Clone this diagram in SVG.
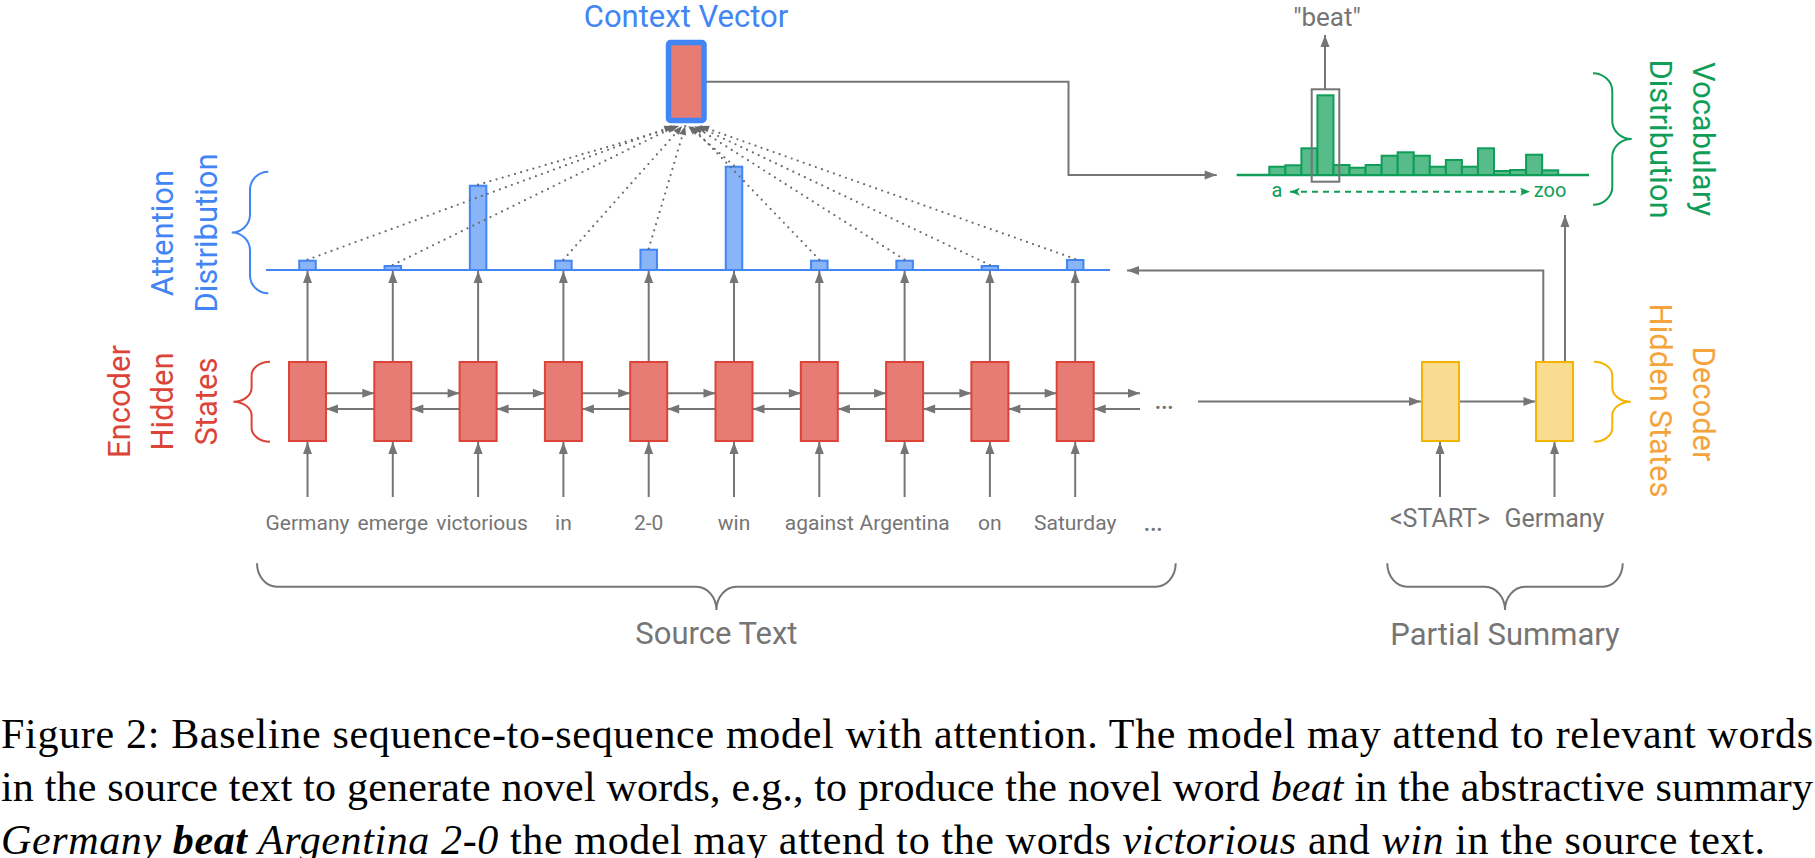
<svg xmlns="http://www.w3.org/2000/svg" width="1815" height="858" viewBox="0 0 1815 858">
<style>
.conn{fill:none;stroke:#757575;stroke-width:2}
.arr{marker-end:url(#ah)}
.dot{fill:none;stroke:#6a6a6a;stroke-width:2.2;stroke-dasharray:0 6.4;stroke-linecap:round;marker-end:url(#ahs)}
.enc{fill:#E67C73;stroke:#DB4437;stroke-width:2}
.dec{fill:#F9DC8F;stroke:#F4B400;stroke-width:2}
.att{fill:#8AB4F8;stroke:#4285F4;stroke-width:2}
.voc{fill:#57BB8A;stroke:#0F9D58;stroke-width:2}
.t{font-family:Roboto,"Liberation Sans",sans-serif}
.word{font-size:21px;fill:#757575;text-anchor:middle}
.big{font-size:31px;text-anchor:middle}
.cap{font-family:"Liberation Serif","Times New Roman",serif;font-size:42px;fill:#000}
.brace{fill:none;stroke-width:2}
.ell{fill:#757575}
</style>
<defs>
<marker id="ah" markerUnits="userSpaceOnUse" markerWidth="14" markerHeight="10" refX="12" refY="4.5" orient="auto" overflow="visible"><path d="M0,0 L12,4.5 L0,9 z" fill="#757575"/></marker>
<marker id="ahs" markerUnits="userSpaceOnUse" markerWidth="10" markerHeight="8" refX="9" refY="3.5" orient="auto" overflow="visible"><path d="M0,0 L9,3.5 L0,7 z" fill="#6a6a6a"/></marker>
<marker id="ahg" markerUnits="userSpaceOnUse" markerWidth="11" markerHeight="9" refX="10" refY="4" orient="auto-start-reverse" overflow="visible"><path d="M0,0 L10,4 L0,8 L2.5,4 z" fill="#0F9D58"/></marker>
</defs>
<rect x="0" y="0" width="1815" height="858" fill="#fff"/>

<!-- attention baseline -->
<line x1="266" y1="270" x2="1110" y2="270" stroke="#4285F4" stroke-width="2"/>
<!-- vocab baseline -->
<line x1="1236.7" y1="175" x2="1589" y2="175" stroke="#0F9D58" stroke-width="2.5"/>

<g id="connectors">
  <!-- encoder forward arrows -->
  <path class="conn arr" d="M326 393.3H374.3"/>
  <path class="conn arr" d="M411.3 393.3H459.6"/>
  <path class="conn arr" d="M496.6 393.3H544.9"/>
  <path class="conn arr" d="M581.9 393.3H630.2"/>
  <path class="conn arr" d="M667.2 393.3H715.5"/>
  <path class="conn arr" d="M752.5 393.3H800.8"/>
  <path class="conn arr" d="M837.8 393.3H886.1"/>
  <path class="conn arr" d="M923.1 393.3H971.4"/>
  <path class="conn arr" d="M1008.4 393.3H1056.7"/>
  <path class="conn arr" d="M1093.7 393.3H1140"/>
  <!-- encoder backward arrows -->
  <path class="conn arr" d="M374.3 409H326"/>
  <path class="conn arr" d="M459.6 409H411.3"/>
  <path class="conn arr" d="M544.9 409H496.6"/>
  <path class="conn arr" d="M630.2 409H581.9"/>
  <path class="conn arr" d="M715.5 409H667.2"/>
  <path class="conn arr" d="M800.8 409H752.5"/>
  <path class="conn arr" d="M886.1 409H837.8"/>
  <path class="conn arr" d="M971.4 409H923.1"/>
  <path class="conn arr" d="M1056.7 409H1008.4"/>
  <path class="conn arr" d="M1140 409H1093.7"/>
  <!-- encoder to attention -->
  <path class="conn arr" d="M307.5 362V271"/>
  <path class="conn arr" d="M392.8 362V271"/>
  <path class="conn arr" d="M478.1 362V271"/>
  <path class="conn arr" d="M563.4 362V271"/>
  <path class="conn arr" d="M648.7 362V271"/>
  <path class="conn arr" d="M734 362V271"/>
  <path class="conn arr" d="M819.3 362V271"/>
  <path class="conn arr" d="M904.6 362V271"/>
  <path class="conn arr" d="M989.9 362V271"/>
  <path class="conn arr" d="M1075.2 362V271"/>
  <!-- word inputs -->
  <path class="conn arr" d="M307.5 497V442"/>
  <path class="conn arr" d="M392.8 497V442"/>
  <path class="conn arr" d="M478.1 497V442"/>
  <path class="conn arr" d="M563.4 497V442"/>
  <path class="conn arr" d="M648.7 497V442"/>
  <path class="conn arr" d="M734 497V442"/>
  <path class="conn arr" d="M819.3 497V442"/>
  <path class="conn arr" d="M904.6 497V442"/>
  <path class="conn arr" d="M989.9 497V442"/>
  <path class="conn arr" d="M1075.2 497V442"/>
  <path class="conn arr" d="M1440 497V442"/>
  <path class="conn arr" d="M1554.5 497V442"/>
  <!-- decoder chain -->
  <path class="conn arr" d="M1198 401.5H1421"/>
  <path class="conn arr" d="M1459 401.5H1535.5"/>
  <!-- decoder to attention & vocab -->
  <path class="conn arr" d="M1543.3 361.7V270.5H1127"/>
  <path class="conn arr" d="M1565 361.7V215"/>
  <!-- context to vocab -->
  <path class="conn arr" d="M706 81.7H1068.5V175H1216.7"/>
  <!-- beat output -->
  <path class="conn arr" d="M1325 89.3V35"/>
</g>

<g id="attention-bars">
  <rect class="att" x="299.25" y="260.7" width="16.5" height="9.3"/>
  <rect class="att" x="384.55" y="266" width="16.5" height="4"/>
  <rect class="att" x="469.85" y="185.7" width="16.5" height="84.3"/>
  <rect class="att" x="555.15" y="260.7" width="16.5" height="9.3"/>
  <rect class="att" x="640.45" y="249.7" width="16.5" height="20.3"/>
  <rect class="att" x="725.75" y="166.7" width="16.5" height="103.3"/>
  <rect class="att" x="811.05" y="260.7" width="16.5" height="9.3"/>
  <rect class="att" x="896.35" y="260.7" width="16.5" height="9.3"/>
  <rect class="att" x="981.65" y="266" width="16.5" height="4"/>
  <rect class="att" x="1066.95" y="260" width="16.5" height="10"/>
</g>

<g id="attention-links">
  <path class="dot" d="M307.5 259.7L673.2 126"/>
  <path class="dot" d="M392.8 265L676.2 126"/>
  <path class="dot" d="M478.1 184.7L679.2 126"/>
  <path class="dot" d="M563.4 259.7L682.2 126"/>
  <path class="dot" d="M648.7 248.7L685.2 126"/>
  <path class="dot" d="M734 165.7L688.2 126"/>
  <path class="dot" d="M819.3 259.7L691.1 126"/>
  <path class="dot" d="M904.6 259.7L694.1 126"/>
  <path class="dot" d="M989.9 265L697.1 126"/>
  <path class="dot" d="M1075.2 259L700.1 126"/>
</g>

<g id="context-vector">
  <rect x="668.5" y="42.5" width="35.5" height="78" rx="2" fill="#E67C73" stroke="#4285F4" stroke-width="5.5"/>
  <text class="t big" x="686" y="26.5" fill="#4285F4">Context Vector</text>
</g>

<g id="encoder">
  <g id="enc0"><rect class="enc" x="289" y="362" width="37" height="79"/></g>
  <g id="enc1"><rect class="enc" x="374.3" y="362" width="37" height="79"/></g>
  <g id="enc2"><rect class="enc" x="459.6" y="362" width="37" height="79"/></g>
  <g id="enc3"><rect class="enc" x="544.9" y="362" width="37" height="79"/></g>
  <g id="enc4"><rect class="enc" x="630.2" y="362" width="37" height="79"/></g>
  <g id="enc5"><rect class="enc" x="715.5" y="362" width="37" height="79"/></g>
  <g id="enc6"><rect class="enc" x="800.8" y="362" width="37" height="79"/></g>
  <g id="enc7"><rect class="enc" x="886.1" y="362" width="37" height="79"/></g>
  <g id="enc8"><rect class="enc" x="971.4" y="362" width="37" height="79"/></g>
  <g id="enc9"><rect class="enc" x="1056.7" y="362" width="37" height="79"/></g>
  <text class="t ell" x="1164" y="409" font-size="30" text-anchor="middle">…</text>
</g>

<g id="decoder">
  <g id="dec0"><rect class="dec" x="1422" y="362" width="37" height="79"/></g>
  <g id="dec1"><rect class="dec" x="1536" y="362" width="37" height="79"/></g>
</g>

<g id="source-words" class="t word">
  <text x="307.5" y="530">Germany</text>
  <text x="392.8" y="530">emerge</text>
  <text x="482" y="530">victorious</text>
  <text x="563.4" y="530">in</text>
  <text x="648.7" y="530">2-0</text>
  <text x="734" y="530">win</text>
  <text x="819.3" y="530">against</text>
  <text x="904.6" y="530">Argentina</text>
  <text x="989.9" y="530">on</text>
  <text x="1075.2" y="530">Saturday</text>
  <text x="1153" y="531" font-size="30">…</text>
</g>
<g id="summary-words" class="t" font-size="25" fill="#757575" text-anchor="middle">
  <text x="1440" y="527">&lt;START&gt;</text>
  <text x="1554.5" y="527">Germany</text>
</g>

<g id="vocab">
  <rect class="voc" x="1269.3" y="166.7" width="16.05" height="8.3"/>
  <rect class="voc" x="1285.35" y="165.3" width="16.05" height="9.7"/>
  <rect class="voc" x="1301.4" y="148.3" width="16.05" height="26.7"/>
  <rect class="voc" x="1317.45" y="95.3" width="16.05" height="79.7"/>
  <rect class="voc" x="1333.5" y="165" width="16.05" height="10"/>
  <rect class="voc" x="1349.55" y="167.7" width="16.05" height="7.3"/>
  <rect class="voc" x="1365.6" y="165" width="16.05" height="10"/>
  <rect class="voc" x="1381.65" y="155.7" width="16.05" height="19.3"/>
  <rect class="voc" x="1397.7" y="152.3" width="16.05" height="22.7"/>
  <rect class="voc" x="1413.75" y="155.7" width="16.05" height="19.3"/>
  <rect class="voc" x="1429.8" y="166.7" width="16.05" height="8.3"/>
  <rect class="voc" x="1445.85" y="160" width="16.05" height="15"/>
  <rect class="voc" x="1461.9" y="166.7" width="16.05" height="8.3"/>
  <rect class="voc" x="1477.95" y="148.3" width="16.05" height="26.7"/>
  <rect class="voc" x="1494" y="171" width="16.05" height="4"/>
  <rect class="voc" x="1510.05" y="170" width="16.05" height="5"/>
  <rect class="voc" x="1526.1" y="154.7" width="16.05" height="20.3"/>
  <rect class="voc" x="1542.15" y="170.3" width="16.05" height="4.7"/>
  <rect x="1311.7" y="89.3" width="27.6" height="92.4" fill="none" stroke="#757575" stroke-width="2"/>
  <path d="M1290 191.7H1530" fill="none" stroke="#0F9D58" stroke-width="2" stroke-dasharray="6 5" marker-start="url(#ahg)" marker-end="url(#ahg)"/>
  <text class="t" x="1277" y="197" font-size="20" fill="#0F9D58" text-anchor="middle">a</text>
  <text class="t" x="1550" y="197" font-size="20" fill="#0F9D58" text-anchor="middle">zoo</text>
  <text class="t" x="1327" y="26" font-size="26" fill="#757575" text-anchor="middle">"beat"</text>
</g>

<g id="braces">
  <path class="brace" stroke="#4285F4" d="M268.3,171.7 C258.2,171.7 250,179.8 250,189.7 L250,214.5 C250,224.4 241.8,232.5 231.7,232.5 C241.8,232.5 250,240.6 250,250.5 L250,275.3 C250,285.2 258.2,293.3 268.3,293.3"/>
  <path class="brace" stroke="#DB4437" d="M270,361.7 C259.9,361.7 251.6,368 251.6,375.7 L251.6,387.7 C251.6,395.4 243.4,401.7 233.3,401.7 C243.4,401.7 251.6,408 251.6,415.7 L251.6,427.7 C251.6,435.4 259.9,441.7 270,441.7"/>
  <path class="brace" stroke="#0F9D58" d="M1593,73.3 C1603.6,73.3 1612.3,81.4 1612.3,91.3 L1612.3,121 C1612.3,130.9 1621,139 1631.7,139 C1621,139 1612.3,147.1 1612.3,157 L1612.3,186.7 C1612.3,196.6 1603.6,204.7 1593,204.7"/>
  <path class="brace" stroke="#F4B400" d="M1594,361.7 C1604.1,361.7 1612.3,368 1612.3,375.7 L1612.3,387.7 C1612.3,395.4 1620.6,401.7 1630.7,401.7 C1620.6,401.7 1612.3,408 1612.3,415.7 L1612.3,427.7 C1612.3,435.4 1604.1,441.7 1594,441.7"/>
  <path class="brace" stroke="#757575" d="M257,563.3 C257,576.2 266,586.7 277,586.7 L696.4,586.7 C707.4,586.7 716.4,597.2 716.4,610 C716.4,597.2 725.4,586.7 736.4,586.7 L1155.7,586.7 C1166.7,586.7 1175.7,576.2 1175.7,563.3"/>
  <path class="brace" stroke="#757575" d="M1387.3,563.3 C1387.3,576.2 1396.3,586.7 1407.3,586.7 L1485,586.7 C1496,586.7 1505,597.2 1505,610 C1505,597.2 1514,586.7 1525,586.7 L1602.7,586.7 C1613.7,586.7 1622.7,576.2 1622.7,563.3"/>
</g>

<g id="labels" class="t big">
  <text transform="translate(173.3,233) rotate(-90)" fill="#4285F4">Attention</text>
  <text transform="translate(216.7,233) rotate(-90)" fill="#4285F4">Distribution</text>
  <text transform="translate(130,401.5) rotate(-90)" fill="#DB4437">Encoder</text>
  <text transform="translate(173.3,401.5) rotate(-90)" fill="#DB4437">Hidden</text>
  <text transform="translate(216.7,401.5) rotate(-90)" fill="#DB4437">States</text>
  <text transform="translate(1693.4,139) rotate(90)" fill="#0F9D58">Vocabulary</text>
  <text transform="translate(1650,139) rotate(90)" fill="#0F9D58">Distribution</text>
  <text transform="translate(1693,404) rotate(90)" fill="#F4A43A">Decoder</text>
  <text transform="translate(1649.7,400.5) rotate(90)" fill="#F4A43A">Hidden States</text>
  <text x="716.4" y="644" fill="#757575">Source Text</text>
  <text x="1505" y="645" fill="#757575">Partial Summary</text>
</g>

<g id="caption" class="cap">
  <text x="1" y="748" textLength="1812" lengthAdjust="spacing">Figure 2: Baseline sequence-to-sequence model with attention. The model may attend to relevant words</text>
  <text x="1" y="801" textLength="1812" lengthAdjust="spacing">in the source text to generate novel words, e.g., to produce the novel word <tspan font-style="italic">beat</tspan> in the abstractive summary</text>
  <text x="1" y="854" textLength="1764" lengthAdjust="spacing"><tspan font-style="italic">Germany </tspan><tspan font-style="italic" font-weight="bold">beat</tspan><tspan font-style="italic"> Argentina 2-0</tspan> the model may attend to the words <tspan font-style="italic">victorious</tspan> and <tspan font-style="italic">win</tspan> in the source text.</text>
</g>
</svg>
